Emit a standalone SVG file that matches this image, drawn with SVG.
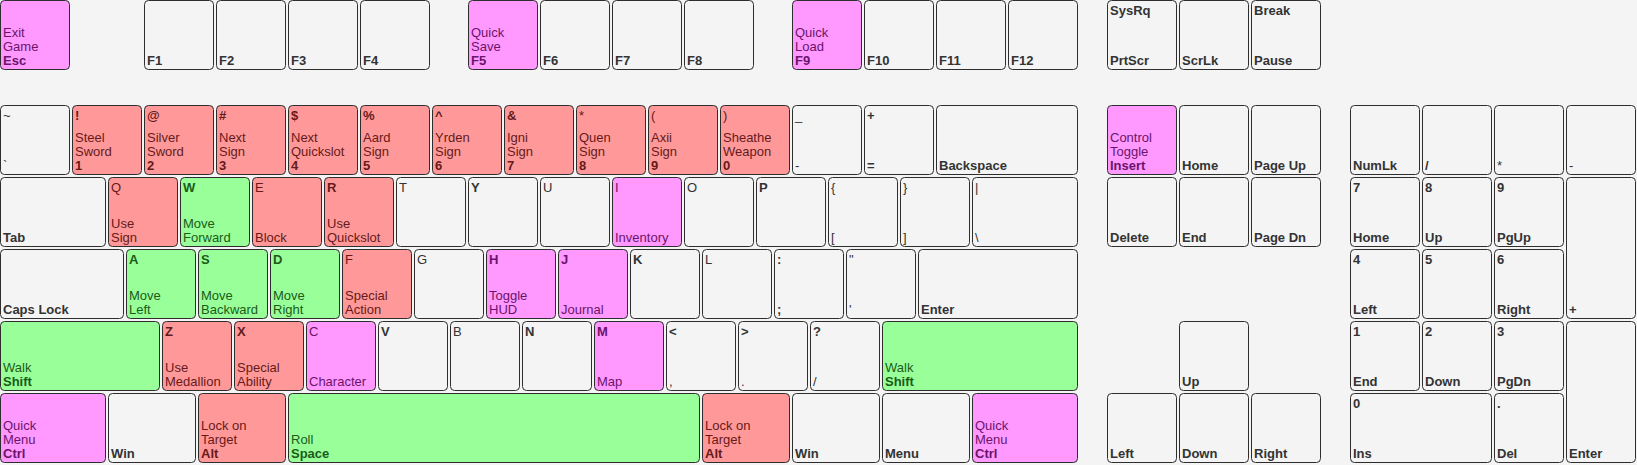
<svg xmlns="http://www.w3.org/2000/svg" width="1637" height="465" viewBox="0 0 1637 465">
<style>
text{font-family:"Liberation Sans",Arial,sans-serif;font-size:13px}
.b{font-weight:bold}
g.k rect{stroke:#2e2e2e;stroke-width:1;rx:4px;ry:4px}
.kd rect{fill:#f4f4f4}.kd text{fill:#333}
.kp rect{fill:#ff99ff}.kp text{fill:#6b146b}
.kr rect{fill:#ff9999}.kr text{fill:#661a1a}
.kg rect{fill:#99ff99}.kg text{fill:#1a5c1a}
</style>
<rect width="1637" height="465" fill="#f4f4f4"/>
<g id="keys">
<!-- Function row -->
<g id="k-esc" class="k kp"><rect x="0.5" y="0.5" width="69" height="69"/><text x="3" y="37">Exit</text><text x="3" y="51">Game</text><text x="3" y="65" class="b">Esc</text></g>
<g id="k-f1" class="k kd"><rect x="144.5" y="0.5" width="69" height="69"/><text x="147" y="65" class="b">F1</text></g>
<g id="k-f2" class="k kd"><rect x="216.5" y="0.5" width="69" height="69"/><text x="219" y="65" class="b">F2</text></g>
<g id="k-f3" class="k kd"><rect x="288.5" y="0.5" width="69" height="69"/><text x="291" y="65" class="b">F3</text></g>
<g id="k-f4" class="k kd"><rect x="360.5" y="0.5" width="69" height="69"/><text x="363" y="65" class="b">F4</text></g>
<g id="k-f5" class="k kp"><rect x="468.5" y="0.5" width="69" height="69"/><text x="471" y="37">Quick</text><text x="471" y="51">Save</text><text x="471" y="65" class="b">F5</text></g>
<g id="k-f6" class="k kd"><rect x="540.5" y="0.5" width="69" height="69"/><text x="543" y="65" class="b">F6</text></g>
<g id="k-f7" class="k kd"><rect x="612.5" y="0.5" width="69" height="69"/><text x="615" y="65" class="b">F7</text></g>
<g id="k-f8" class="k kd"><rect x="684.5" y="0.5" width="69" height="69"/><text x="687" y="65" class="b">F8</text></g>
<g id="k-f9" class="k kp"><rect x="792.5" y="0.5" width="69" height="69"/><text x="795" y="37">Quick</text><text x="795" y="51">Load</text><text x="795" y="65" class="b">F9</text></g>
<g id="k-f10" class="k kd"><rect x="864.5" y="0.5" width="69" height="69"/><text x="867" y="65" class="b">F10</text></g>
<g id="k-f11" class="k kd"><rect x="936.5" y="0.5" width="69" height="69"/><text x="939" y="65" class="b">F11</text></g>
<g id="k-f12" class="k kd"><rect x="1008.5" y="0.5" width="69" height="69"/><text x="1011" y="65" class="b">F12</text></g>
<g id="k-prtscr" class="k kd"><rect x="1107.5" y="0.5" width="69" height="69"/><text x="1110" y="15" class="b">SysRq</text><text x="1110" y="65" class="b">PrtScr</text></g>
<g id="k-scrlk" class="k kd"><rect x="1179.5" y="0.5" width="69" height="69"/><text x="1182" y="65" class="b">ScrLk</text></g>
<g id="k-pause" class="k kd"><rect x="1251.5" y="0.5" width="69" height="69"/><text x="1254" y="15" class="b">Break</text><text x="1254" y="65" class="b">Pause</text></g>

<!-- Number row -->
<g id="k-grave" class="k kd"><rect x="0.5" y="105.5" width="69" height="69"/><text x="3" y="120">~</text><text x="3" y="170">`</text></g>
<g id="k-1" class="k kr"><rect x="72.5" y="105.5" width="69" height="69"/><text x="75" y="120" class="b">!</text><text x="75" y="142">Steel</text><text x="75" y="156">Sword</text><text x="75" y="170" class="b">1</text></g>
<g id="k-2" class="k kr"><rect x="144.5" y="105.5" width="69" height="69"/><text x="147" y="120" class="b">@</text><text x="147" y="142">Silver</text><text x="147" y="156">Sword</text><text x="147" y="170" class="b">2</text></g>
<g id="k-3" class="k kr"><rect x="216.5" y="105.5" width="69" height="69"/><text x="219" y="120" class="b">#</text><text x="219" y="142">Next</text><text x="219" y="156">Sign</text><text x="219" y="170" class="b">3</text></g>
<g id="k-4" class="k kr"><rect x="288.5" y="105.5" width="69" height="69"/><text x="291" y="120" class="b">$</text><text x="291" y="142">Next</text><text x="291" y="156">Quickslot</text><text x="291" y="170" class="b">4</text></g>
<g id="k-5" class="k kr"><rect x="360.5" y="105.5" width="69" height="69"/><text x="363" y="120" class="b">%</text><text x="363" y="142">Aard</text><text x="363" y="156">Sign</text><text x="363" y="170" class="b">5</text></g>
<g id="k-6" class="k kr"><rect x="432.5" y="105.5" width="69" height="69"/><text x="435" y="120" class="b">^</text><text x="435" y="142">Yrden</text><text x="435" y="156">Sign</text><text x="435" y="170" class="b">6</text></g>
<g id="k-7" class="k kr"><rect x="504.5" y="105.5" width="69" height="69"/><text x="507" y="120" class="b">&amp;</text><text x="507" y="142">Igni</text><text x="507" y="156">Sign</text><text x="507" y="170" class="b">7</text></g>
<g id="k-8" class="k kr"><rect x="576.5" y="105.5" width="69" height="69"/><text x="579" y="120">*</text><text x="579" y="142">Quen</text><text x="579" y="156">Sign</text><text x="579" y="170" class="b">8</text></g>
<g id="k-9" class="k kr"><rect x="648.5" y="105.5" width="69" height="69"/><text x="651" y="120">(</text><text x="651" y="142">Axii</text><text x="651" y="156">Sign</text><text x="651" y="170" class="b">9</text></g>
<g id="k-0" class="k kr"><rect x="720.5" y="105.5" width="69" height="69"/><text x="723" y="120">)</text><text x="723" y="142">Sheathe</text><text x="723" y="156">Weapon</text><text x="723" y="170" class="b">0</text></g>
<g id="k-minus" class="k kd"><rect x="792.5" y="105.5" width="69" height="69"/><text x="795" y="120">_</text><text x="795" y="170">-</text></g>
<g id="k-equal" class="k kd"><rect x="864.5" y="105.5" width="69" height="69"/><text x="867" y="120" class="b">+</text><text x="867" y="170" class="b">=</text></g>
<g id="k-backspace" class="k kd"><rect x="936.5" y="105.5" width="141" height="69"/><text x="939" y="170" class="b">Backspace</text></g>
<g id="k-insert" class="k kp"><rect x="1107.5" y="105.5" width="69" height="69"/><text x="1110" y="142">Control</text><text x="1110" y="156">Toggle</text><text x="1110" y="170" class="b">Insert</text></g>
<g id="k-home" class="k kd"><rect x="1179.5" y="105.5" width="69" height="69"/><text x="1182" y="170" class="b">Home</text></g>
<g id="k-pageup" class="k kd"><rect x="1251.5" y="105.5" width="69" height="69"/><text x="1254" y="170" class="b">Page Up</text></g>
<g id="k-numlk" class="k kd"><rect x="1350.5" y="105.5" width="69" height="69"/><text x="1353" y="170" class="b">NumLk</text></g>
<g id="k-numdiv" class="k kd"><rect x="1422.5" y="105.5" width="69" height="69"/><text x="1425" y="170" class="b">/</text></g>
<g id="k-nummul" class="k kd"><rect x="1494.5" y="105.5" width="69" height="69"/><text x="1497" y="170">*</text></g>
<g id="k-numsub" class="k kd"><rect x="1566.5" y="105.5" width="69" height="69"/><text x="1569" y="170">-</text></g>

<!-- Tab row -->
<g id="k-tab" class="k kd"><rect x="0.5" y="177.5" width="105" height="69"/><text x="3" y="242" class="b">Tab</text></g>
<g id="k-q" class="k kr"><rect x="108.5" y="177.5" width="69" height="69"/><text x="111" y="192">Q</text><text x="111" y="228">Use</text><text x="111" y="242">Sign</text></g>
<g id="k-w" class="k kg"><rect x="180.5" y="177.5" width="69" height="69"/><text x="183" y="192" class="b">W</text><text x="183" y="228">Move</text><text x="183" y="242">Forward</text></g>
<g id="k-e" class="k kr"><rect x="252.5" y="177.5" width="69" height="69"/><text x="255" y="192">E</text><text x="255" y="242">Block</text></g>
<g id="k-r" class="k kr"><rect x="324.5" y="177.5" width="69" height="69"/><text x="327" y="192" class="b">R</text><text x="327" y="228">Use</text><text x="327" y="242">Quickslot</text></g>
<g id="k-t" class="k kd"><rect x="396.5" y="177.5" width="69" height="69"/><text x="399" y="192">T</text></g>
<g id="k-y" class="k kd"><rect x="468.5" y="177.5" width="69" height="69"/><text x="471" y="192" class="b">Y</text></g>
<g id="k-u" class="k kd"><rect x="540.5" y="177.5" width="69" height="69"/><text x="543" y="192">U</text></g>
<g id="k-i" class="k kp"><rect x="612.5" y="177.5" width="69" height="69"/><text x="615" y="192">I</text><text x="615" y="242">Inventory</text></g>
<g id="k-o" class="k kd"><rect x="684.5" y="177.5" width="69" height="69"/><text x="687" y="192">O</text></g>
<g id="k-p" class="k kd"><rect x="756.5" y="177.5" width="69" height="69"/><text x="759" y="192" class="b">P</text></g>
<g id="k-lbracket" class="k kd"><rect x="828.5" y="177.5" width="69" height="69"/><text x="831" y="192">{</text><text x="831" y="242">[</text></g>
<g id="k-rbracket" class="k kd"><rect x="900.5" y="177.5" width="69" height="69"/><text x="903" y="192">}</text><text x="903" y="242">]</text></g>
<g id="k-backslash" class="k kd"><rect x="972.5" y="177.5" width="105" height="69"/><text x="975" y="192">|</text><text x="975" y="242">\</text></g>
<g id="k-delete" class="k kd"><rect x="1107.5" y="177.5" width="69" height="69"/><text x="1110" y="242" class="b">Delete</text></g>
<g id="k-end" class="k kd"><rect x="1179.5" y="177.5" width="69" height="69"/><text x="1182" y="242" class="b">End</text></g>
<g id="k-pagedn" class="k kd"><rect x="1251.5" y="177.5" width="69" height="69"/><text x="1254" y="242" class="b">Page Dn</text></g>
<g id="k-num7" class="k kd"><rect x="1350.5" y="177.5" width="69" height="69"/><text x="1353" y="192" class="b">7</text><text x="1353" y="242" class="b">Home</text></g>
<g id="k-num8" class="k kd"><rect x="1422.5" y="177.5" width="69" height="69"/><text x="1425" y="192" class="b">8</text><text x="1425" y="242" class="b">Up</text></g>
<g id="k-num9" class="k kd"><rect x="1494.5" y="177.5" width="69" height="69"/><text x="1497" y="192" class="b">9</text><text x="1497" y="242" class="b">PgUp</text></g>
<g id="k-numadd" class="k kd"><rect x="1566.5" y="177.5" width="69" height="141"/><text x="1569" y="314" class="b">+</text></g>

<!-- Caps row -->
<g id="k-caps" class="k kd"><rect x="0.5" y="249.5" width="123" height="69"/><text x="3" y="314" class="b">Caps Lock</text></g>
<g id="k-a" class="k kg"><rect x="126.5" y="249.5" width="69" height="69"/><text x="129" y="264" class="b">A</text><text x="129" y="300">Move</text><text x="129" y="314">Left</text></g>
<g id="k-s" class="k kg"><rect x="198.5" y="249.5" width="69" height="69"/><text x="201" y="264" class="b">S</text><text x="201" y="300">Move</text><text x="201" y="314">Backward</text></g>
<g id="k-d" class="k kg"><rect x="270.5" y="249.5" width="69" height="69"/><text x="273" y="264" class="b">D</text><text x="273" y="300">Move</text><text x="273" y="314">Right</text></g>
<g id="k-f" class="k kr"><rect x="342.5" y="249.5" width="69" height="69"/><text x="345" y="264">F</text><text x="345" y="300">Special</text><text x="345" y="314">Action</text></g>
<g id="k-g" class="k kd"><rect x="414.5" y="249.5" width="69" height="69"/><text x="417" y="264">G</text></g>
<g id="k-h" class="k kp"><rect x="486.5" y="249.5" width="69" height="69"/><text x="489" y="264" class="b">H</text><text x="489" y="300">Toggle</text><text x="489" y="314">HUD</text></g>
<g id="k-j" class="k kp"><rect x="558.5" y="249.5" width="69" height="69"/><text x="561" y="264" class="b">J</text><text x="561" y="314">Journal</text></g>
<g id="k-k" class="k kd"><rect x="630.5" y="249.5" width="69" height="69"/><text x="633" y="264" class="b">K</text></g>
<g id="k-l" class="k kd"><rect x="702.5" y="249.5" width="69" height="69"/><text x="705" y="264">L</text></g>
<g id="k-semicolon" class="k kd"><rect x="774.5" y="249.5" width="69" height="69"/><text x="777" y="264" class="b">:</text><text x="777" y="314" class="b">;</text></g>
<g id="k-quote" class="k kd"><rect x="846.5" y="249.5" width="69" height="69"/><text x="849" y="264">"</text><text x="849" y="314">'</text></g>
<g id="k-enter" class="k kd"><rect x="918.5" y="249.5" width="159" height="69"/><text x="921" y="314" class="b">Enter</text></g>
<g id="k-num4" class="k kd"><rect x="1350.5" y="249.5" width="69" height="69"/><text x="1353" y="264" class="b">4</text><text x="1353" y="314" class="b">Left</text></g>
<g id="k-num5" class="k kd"><rect x="1422.5" y="249.5" width="69" height="69"/><text x="1425" y="264" class="b">5</text></g>
<g id="k-num6" class="k kd"><rect x="1494.5" y="249.5" width="69" height="69"/><text x="1497" y="264" class="b">6</text><text x="1497" y="314" class="b">Right</text></g>

<!-- Shift row -->
<g id="k-lshift" class="k kg"><rect x="0.5" y="321.5" width="159" height="69"/><text x="3" y="372">Walk</text><text x="3" y="386" class="b">Shift</text></g>
<g id="k-z" class="k kr"><rect x="162.5" y="321.5" width="69" height="69"/><text x="165" y="336" class="b">Z</text><text x="165" y="372">Use</text><text x="165" y="386">Medallion</text></g>
<g id="k-x" class="k kr"><rect x="234.5" y="321.5" width="69" height="69"/><text x="237" y="336" class="b">X</text><text x="237" y="372">Special</text><text x="237" y="386">Ability</text></g>
<g id="k-c" class="k kp"><rect x="306.5" y="321.5" width="69" height="69"/><text x="309" y="336">C</text><text x="309" y="386">Character</text></g>
<g id="k-v" class="k kd"><rect x="378.5" y="321.5" width="69" height="69"/><text x="381" y="336" class="b">V</text></g>
<g id="k-b" class="k kd"><rect x="450.5" y="321.5" width="69" height="69"/><text x="453" y="336">B</text></g>
<g id="k-n" class="k kd"><rect x="522.5" y="321.5" width="69" height="69"/><text x="525" y="336" class="b">N</text></g>
<g id="k-m" class="k kp"><rect x="594.5" y="321.5" width="69" height="69"/><text x="597" y="336" class="b">M</text><text x="597" y="386">Map</text></g>
<g id="k-comma" class="k kd"><rect x="666.5" y="321.5" width="69" height="69"/><text x="669" y="336" class="b">&lt;</text><text x="669" y="386">,</text></g>
<g id="k-period" class="k kd"><rect x="738.5" y="321.5" width="69" height="69"/><text x="741" y="336" class="b">&gt;</text><text x="741" y="386">.</text></g>
<g id="k-slash" class="k kd"><rect x="810.5" y="321.5" width="69" height="69"/><text x="813" y="336" class="b">?</text><text x="813" y="386">/</text></g>
<g id="k-rshift" class="k kg"><rect x="882.5" y="321.5" width="195" height="69"/><text x="885" y="372">Walk</text><text x="885" y="386" class="b">Shift</text></g>
<g id="k-up" class="k kd"><rect x="1179.5" y="321.5" width="69" height="69"/><text x="1182" y="386" class="b">Up</text></g>
<g id="k-num1" class="k kd"><rect x="1350.5" y="321.5" width="69" height="69"/><text x="1353" y="336" class="b">1</text><text x="1353" y="386" class="b">End</text></g>
<g id="k-num2" class="k kd"><rect x="1422.5" y="321.5" width="69" height="69"/><text x="1425" y="336" class="b">2</text><text x="1425" y="386" class="b">Down</text></g>
<g id="k-num3" class="k kd"><rect x="1494.5" y="321.5" width="69" height="69"/><text x="1497" y="336" class="b">3</text><text x="1497" y="386" class="b">PgDn</text></g>
<g id="k-numenter" class="k kd"><rect x="1566.5" y="321.5" width="69" height="141"/><text x="1569" y="458" class="b">Enter</text></g>

<!-- Bottom row -->
<g id="k-lctrl" class="k kp"><rect x="0.5" y="393.5" width="105" height="69"/><text x="3" y="430">Quick</text><text x="3" y="444">Menu</text><text x="3" y="458" class="b">Ctrl</text></g>
<g id="k-lwin" class="k kd"><rect x="108.5" y="393.5" width="87" height="69"/><text x="111" y="458" class="b">Win</text></g>
<g id="k-lalt" class="k kr"><rect x="198.5" y="393.5" width="87" height="69"/><text x="201" y="430">Lock on</text><text x="201" y="444">Target</text><text x="201" y="458" class="b">Alt</text></g>
<g id="k-space" class="k kg"><rect x="288.5" y="393.5" width="411" height="69"/><text x="291" y="444">Roll</text><text x="291" y="458" class="b">Space</text></g>
<g id="k-ralt" class="k kr"><rect x="702.5" y="393.5" width="87" height="69"/><text x="705" y="430">Lock on</text><text x="705" y="444">Target</text><text x="705" y="458" class="b">Alt</text></g>
<g id="k-rwin" class="k kd"><rect x="792.5" y="393.5" width="87" height="69"/><text x="795" y="458" class="b">Win</text></g>
<g id="k-menu" class="k kd"><rect x="882.5" y="393.5" width="87" height="69"/><text x="885" y="458" class="b">Menu</text></g>
<g id="k-rctrl" class="k kp"><rect x="972.5" y="393.5" width="105" height="69"/><text x="975" y="430">Quick</text><text x="975" y="444">Menu</text><text x="975" y="458" class="b">Ctrl</text></g>
<g id="k-left" class="k kd"><rect x="1107.5" y="393.5" width="69" height="69"/><text x="1110" y="458" class="b">Left</text></g>
<g id="k-down" class="k kd"><rect x="1179.5" y="393.5" width="69" height="69"/><text x="1182" y="458" class="b">Down</text></g>
<g id="k-right" class="k kd"><rect x="1251.5" y="393.5" width="69" height="69"/><text x="1254" y="458" class="b">Right</text></g>
<g id="k-num0" class="k kd"><rect x="1350.5" y="393.5" width="141" height="69"/><text x="1353" y="408" class="b">0</text><text x="1353" y="458" class="b">Ins</text></g>
<g id="k-numdel" class="k kd"><rect x="1494.5" y="393.5" width="69" height="69"/><text x="1497" y="408" class="b">.</text><text x="1497" y="458" class="b">Del</text></g>
</g>
</svg>
